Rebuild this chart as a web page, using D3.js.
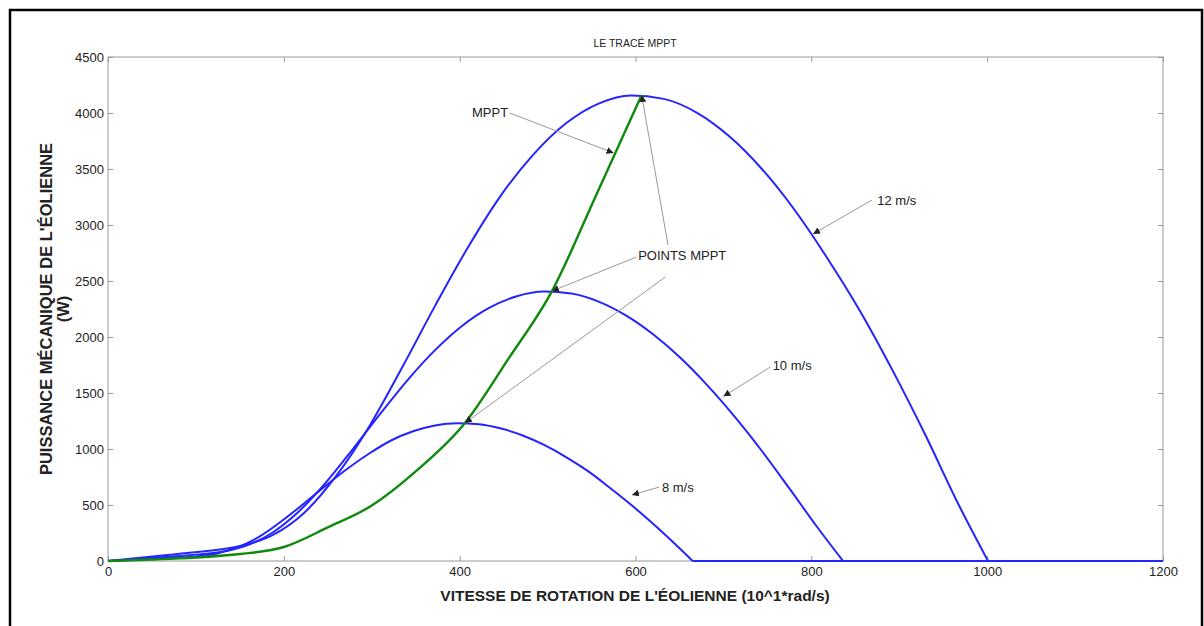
<!DOCTYPE html>
<html><head><meta charset="utf-8">
<script src="https://cdn.jsdelivr.net/npm/d3@7"></script>
<style>
body{margin:0;background:#fff}
text{font-family:"Liberation Sans",Arial,Helvetica,sans-serif;fill:#222}
</style>
</head><body>
<svg id="chart" width="1204" height="626"></svg>
<script>
// ---- data ----
const xTicks = [0, 200, 400, 600, 800, 1000, 1200];
const yTicks = [0, 500, 1000, 1500, 2000, 2500, 3000, 3500, 4000, 4500];

const omega8 = [0, 25, 50, 74, 99, 124, 149, 174, 198, 223, 248, 273, 298, 322, 347, 372, 397, 422, 446, 471, 496, 521, 546, 570, 595, 620, 645, 665, 1200];
const power8 = [0, 9, 17, 26, 39, 67, 127, 226, 359, 514, 675, 828, 964, 1076, 1158, 1210, 1231, 1222, 1185, 1123, 1036, 928, 802, 659, 502, 332, 151, 0, 0];

const omega10 = [0, 31, 62, 93, 124, 155, 186, 217, 248, 279, 310, 341, 372, 403, 434, 465, 496, 527, 558, 589, 620, 651, 682, 713, 744, 775, 806, 836, 1200];
const power10 = [0, 17, 34, 52, 76, 131, 248, 442, 702, 1004, 1318, 1618, 1883, 2101, 2262, 2364, 2406, 2388, 2316, 2193, 2024, 1814, 1566, 1287, 980, 648, 310, 0, 0];

const omega12 = [0, 37, 74, 112, 149, 186, 223, 260, 298, 335, 372, 409, 446, 484, 521, 558, 595, 632, 670, 707, 744, 781, 818, 856, 893, 930, 967, 1001, 1200];
const power12 = [0, 29, 59, 89, 131, 226, 429, 764, 1213, 1734, 2278, 2795, 3254, 3631, 3908, 4084, 4157, 4126, 4002, 3790, 3498, 3134, 2706, 2224, 1693, 1120, 511, 0, 0];

const omegaMppt = [0, 50, 100, 150, 200, 250, 300, 350, 406, 455, 505, 556, 607];
const powerMppt = [0, 13, 31, 62, 125, 300, 495, 800, 1232, 1800, 2410, 3280, 4160];

const speedLabels = ["8 m/s", "10 m/s", "12 m/s"];

// ---- layout ----
const svg = d3.select("#chart");
const W = 1204, H = 626;
const x = d3.scaleLinear().domain([0, 1200]).range([108, 1163]);
const y = d3.scaleLinear().domain([0, 4500]).range([561, 57]);
const FONT = '"Liberation Sans",Arial,sans-serif';

svg.append("rect").attr("x", 0).attr("y", 0).attr("width", W).attr("height", H).attr("fill", "#fff");
// outer frame
svg.append("rect").attr("x", 10).attr("y", 10).attr("width", 1192).attr("height", 630)
  .attr("fill", "none").attr("stroke", "#000").attr("stroke-width", 2.5);

// axes box
svg.append("rect").attr("x", x(0)).attr("y", y(4500)).attr("width", x(1200) - x(0)).attr("height", y(0) - y(4500))
  .attr("fill", "#fff").attr("stroke", "#999").attr("stroke-width", 1);

function styleAxis(g) {
  g.select(".domain").remove();
  g.selectAll(".tick line").attr("stroke", "#999");
  g.selectAll(".tick text").attr("fill", "#222").style("font-size", "13px").style("font-family", FONT);
}
svg.append("g").attr("transform", `translate(0,${y(0)})`)
  .call(d3.axisBottom(x).tickValues(xTicks).tickFormat(d3.format("d")).tickSizeInner(-5).tickSizeOuter(0).tickPadding(6))
  .call(styleAxis);
svg.append("g").attr("transform", `translate(0,${y(4500)})`)
  .call(d3.axisTop(x).tickValues(xTicks).tickFormat("").tickSizeInner(-5).tickSizeOuter(0))
  .call(styleAxis);
svg.append("g").attr("transform", `translate(${x(0)},0)`)
  .call(d3.axisLeft(y).tickValues(yTicks).tickFormat(d3.format("d")).tickSizeInner(-5).tickSizeOuter(0).tickPadding(4))
  .call(styleAxis);
svg.append("g").attr("transform", `translate(${x(1200)},0)`)
  .call(d3.axisRight(y).tickValues(yTicks).tickFormat("").tickSizeInner(-5).tickSizeOuter(0))
  .call(styleAxis);

// curves
const smooth = d3.line().x(d => x(d[0])).y(d => y(d[1])).curve(d3.curveMonotoneX);
const straight = d3.line().x(d => x(d[0])).y(d => y(d[1]));
const series = [[omega8, power8], [omega10, power10], [omega12, power12]];
series.forEach(([w, p]) => {
  const pts = w.map((v, i) => [v, p[i]]);
  const iz = p.findIndex((v, i) => i > 0 && v === 0);
  svg.append("path").datum(pts.slice(0, iz + 1))
    .attr("d", smooth).attr("fill", "none").attr("stroke", "#2424ff").attr("stroke-width", 2);
  svg.append("path").datum(pts.slice(iz))
    .attr("d", straight).attr("fill", "none").attr("stroke", "#2424ff").attr("stroke-width", 2);
});
svg.append("path").datum(omegaMppt.map((v, i) => [v, powerMppt[i]]))
  .attr("d", smooth).attr("fill", "none").attr("stroke", "#0f8a0f").attr("stroke-width", 2.4);

// annotations
const defs = svg.append("defs");
defs.append("marker").attr("id", "ah").attr("viewBox", "0 0 10 10").attr("refX", 10).attr("refY", 5)
  .attr("markerWidth", 7).attr("markerHeight", 7).attr("orient", "auto-start-reverse").attr("markerUnits", "userSpaceOnUse")
  .append("path").attr("d", "M0,0 L10,5 L0,10 z").attr("fill", "#222");

const annotations = [
  {text: "MPPT", at: [414, 4009], arrows: [[[457, 4000], [575, 3643]]]},
  {text: "POINTS MPPT", at: [603, 2732], arrows: [[[637, 2821], [607, 4160]], [[601, 2714], [505, 2410]], [[634, 2536], [406, 1232]]]},
  {text: speedLabels[2], at: [875, 3223], arrows: [[[869, 3223], [802, 2920]]]},
  {text: speedLabels[1], at: [756, 1750], arrows: [[[753, 1730], [700, 1470]]]},
  {text: speedLabels[0], at: [630, 660], arrows: [[[627, 660], [596, 590]]]}
];
annotations.forEach(a => {
  a.arrows.forEach(([s, e]) => {
    svg.append("line").attr("x1", x(s[0])).attr("y1", y(s[1])).attr("x2", x(e[0])).attr("y2", y(e[1]))
      .attr("stroke", "#999").attr("stroke-width", 1).attr("marker-end", "url(#ah)");
  });
  svg.append("text").attr("x", x(a.at[0])).attr("y", y(a.at[1])).attr("dy", "0.35em")
    .style("font-size", "13px").text(a.text);
});

// title and axis labels
svg.append("text").attr("x", 635).attr("y", 43).attr("text-anchor", "middle").attr("dy", "0.35em")
  .style("font-size", "10.5px").text("LE TRACÉ MPPT");
svg.append("text").attr("x", 635).attr("y", 596).attr("text-anchor", "middle").attr("dy", "0.35em")
  .style("font-size", "15.5px").style("font-weight", "bold").text("VITESSE DE ROTATION DE L'ÉOLIENNE (10^1*rad/s)");
const yl = svg.append("text").attr("transform", "translate(46,309) rotate(-90)").attr("text-anchor", "middle")
  .style("font-size", "16.5px").style("font-weight", "bold");
yl.append("tspan").attr("x", 0).attr("dy", "0.35em").text("PUISSANCE MÉCANIQUE DE L'ÉOLIENNE");
yl.append("tspan").attr("x", 0).attr("dy", "1.05em").text("(W)");
</script>
</body></html>
